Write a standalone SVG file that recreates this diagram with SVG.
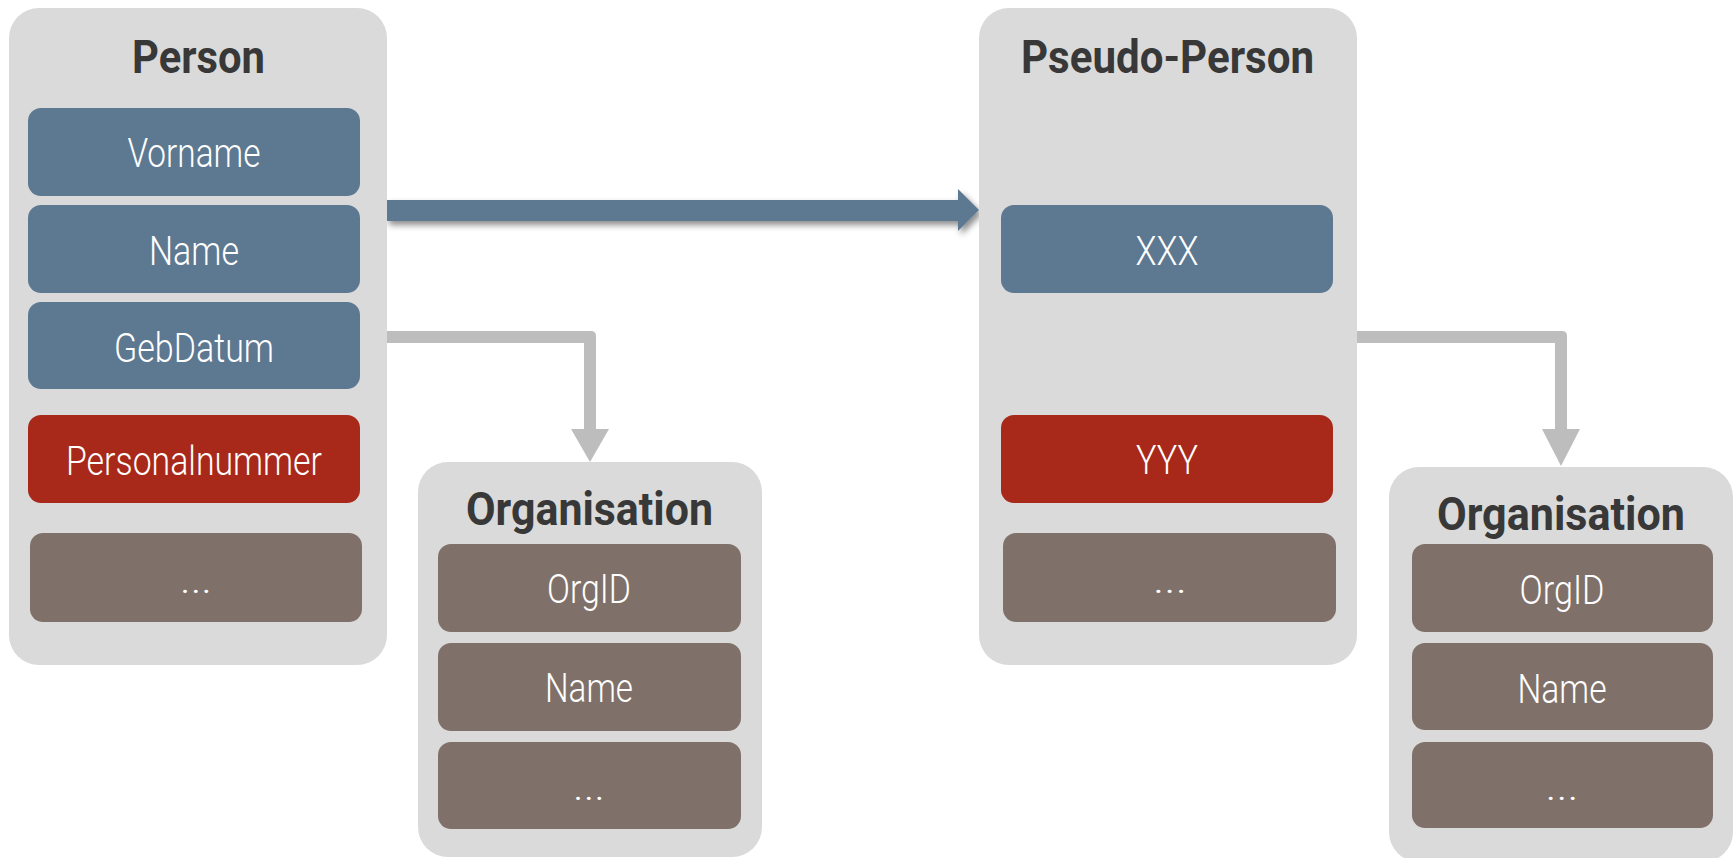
<svg xmlns="http://www.w3.org/2000/svg" width="1733" height="858" viewBox="0 0 1733 858">
<style>
.box{fill:#dadada}
.blue{fill:#5d7891}
.red{fill:#a8281a}
.brown{fill:#7f7169}
.title{font-family:Roboto,"Liberation Sans",sans-serif;font-weight:700;font-size:47px;fill:#383838;text-anchor:middle}
.field{font-family:Roboto,"Liberation Sans",sans-serif;font-weight:300;font-size:41px;fill:#ffffff;text-anchor:middle}
.conn{fill:#bdbdbd}
</style>
<defs>
<filter id="shadow" x="-5%" y="-50%" width="110%" height="200%">
<feDropShadow dx="3" dy="4" stdDeviation="3" flood-color="#000" flood-opacity="0.45"/>
</filter>
</defs>
<rect width="1733" height="858" fill="#ffffff"/>
<g id="connectors">
<path class="conn" d="M387 331 H591 Q596 331 596 336 V429 H609 L590 462 L571 429 H584 V343 H387 Z"/>
<path class="conn" d="M1357 331 H1562 Q1567 331 1567 336 V429 H1580 L1561 466 L1542 429 H1555 V343 H1357 Z"/>
<path fill="#5d7891" filter="url(#shadow)" d="M386 200 H958 V189 L979 210 L958 231 V221 H386 Z"/>
</g>
<g id="person">
<rect class="box" x="9" y="8" width="378" height="657" rx="30"/>
<text class="title" x="198.5" y="73" textLength="133" lengthAdjust="spacingAndGlyphs">Person</text>
<g id="person-vorname"><rect class="blue" x="28" y="108" width="332" height="88" rx="13"/><text class="field" x="194" y="167" textLength="133" lengthAdjust="spacingAndGlyphs">Vorname</text></g>
<g id="person-name"><rect class="blue" x="28" y="205" width="332" height="88" rx="13"/><text class="field" x="194" y="265" textLength="90" lengthAdjust="spacingAndGlyphs">Name</text></g>
<g id="person-gebdatum"><rect class="blue" x="28" y="302" width="332" height="87" rx="13"/><text class="field" x="194" y="362" textLength="160" lengthAdjust="spacingAndGlyphs">GebDatum</text></g>
<g id="person-personalnummer"><rect class="red" x="28" y="415" width="332" height="88" rx="13"/><text class="field" x="194" y="475" textLength="256" lengthAdjust="spacingAndGlyphs">Personalnummer</text></g>
<g id="person-more"><rect class="brown" x="30" y="533" width="332" height="89" rx="13"/><text class="field" x="196" y="593" textLength="32" lengthAdjust="spacingAndGlyphs">...</text></g>
</g>
<g id="organisation1">
<rect class="box" x="418" y="462" width="344" height="395" rx="30"/>
<text class="title" x="589.5" y="525" textLength="247" lengthAdjust="spacingAndGlyphs">Organisation</text>
<g id="org1-orgid"><rect class="brown" x="438" y="544" width="303" height="88" rx="13"/><text class="field" x="589" y="603" textLength="84" lengthAdjust="spacingAndGlyphs">OrgID</text></g>
<g id="org1-name"><rect class="brown" x="438" y="643" width="303" height="88" rx="13"/><text class="field" x="589" y="702" textLength="88" lengthAdjust="spacingAndGlyphs">Name</text></g>
<g id="org1-more"><rect class="brown" x="438" y="742" width="303" height="87" rx="13"/><text class="field" x="589" y="800" textLength="32" lengthAdjust="spacingAndGlyphs">...</text></g>
</g>
<g id="pseudo-person">
<rect class="box" x="979" y="8" width="378" height="657" rx="30"/>
<text class="title" x="1167.5" y="73" textLength="293" lengthAdjust="spacingAndGlyphs">Pseudo-Person</text>
<g id="pseudo-xxx"><rect class="blue" x="1001" y="205" width="332" height="88" rx="13"/><text class="field" x="1167" y="265" textLength="63" lengthAdjust="spacingAndGlyphs">XXX</text></g>
<g id="pseudo-yyy"><rect class="red" x="1001" y="415" width="332" height="88" rx="13"/><text class="field" x="1167" y="474" textLength="62" lengthAdjust="spacingAndGlyphs">YYY</text></g>
<g id="pseudo-more"><rect class="brown" x="1003" y="533" width="333" height="89" rx="13"/><text class="field" x="1170" y="593" textLength="34" lengthAdjust="spacingAndGlyphs">...</text></g>
</g>
<g id="organisation2">
<rect class="box" x="1389" y="467" width="344" height="395" rx="30"/>
<text class="title" x="1561" y="530" textLength="248" lengthAdjust="spacingAndGlyphs">Organisation</text>
<g id="org2-orgid"><rect class="brown" x="1412" y="544" width="301" height="88" rx="13"/><text class="field" x="1562" y="604" textLength="85" lengthAdjust="spacingAndGlyphs">OrgID</text></g>
<g id="org2-name"><rect class="brown" x="1412" y="643" width="301" height="87" rx="13"/><text class="field" x="1562" y="703" textLength="89" lengthAdjust="spacingAndGlyphs">Name</text></g>
<g id="org2-more"><rect class="brown" x="1412" y="742" width="301" height="86" rx="13"/><text class="field" x="1562" y="800" textLength="33" lengthAdjust="spacingAndGlyphs">...</text></g>
</g>
</svg>
